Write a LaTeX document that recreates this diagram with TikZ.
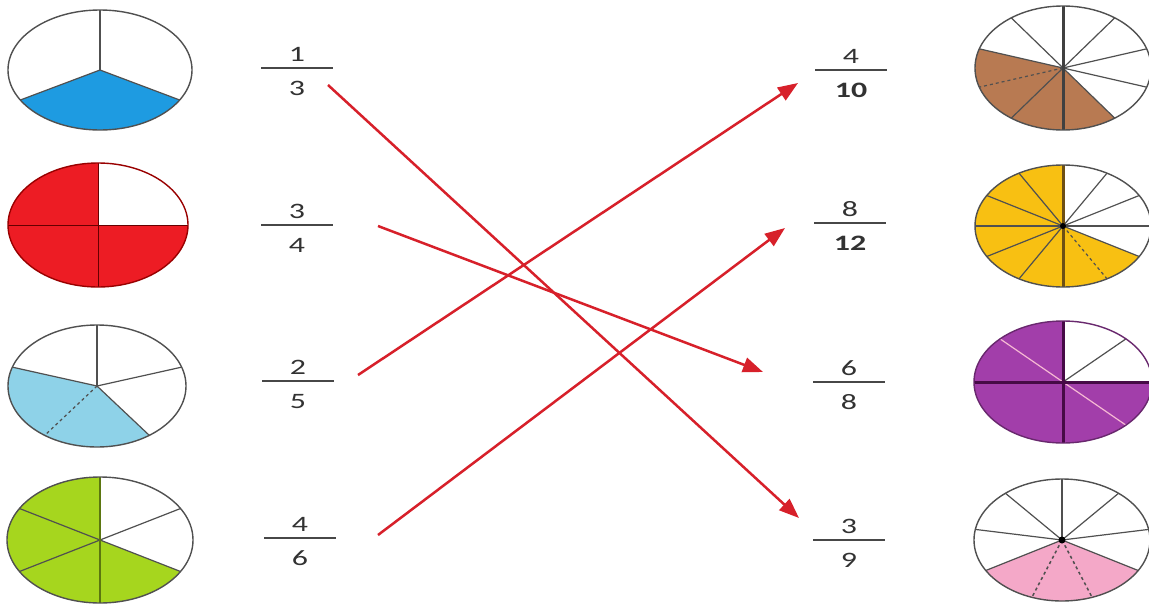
\documentclass[tikz,border=0pt]{standalone}
\usepackage{fontspec}
\setmainfont{Carlito}
\usetikzlibrary{arrows.meta}
\definecolor{cblue}{RGB}{30,155,225}
\definecolor{cred}{RGB}{237,28,36}
\definecolor{clblue}{RGB}{142,210,232}
\definecolor{cgreen}{RGB}{166,214,30}
\definecolor{cbrown}{RGB}{184,122,82}
\definecolor{cyellow}{RGB}{248,192,18}
\definecolor{cpurple}{RGB}{162,62,170}
\definecolor{cpink}{RGB}{244,168,200}
\definecolor{rimgray}{RGB}{80,80,80}
\definecolor{txtgray}{RGB}{50,50,50}
\definecolor{arrred}{RGB}{215,32,42}
\definecolor{ybrown}{RGB}{110,80,20}
\definecolor{dpurple}{RGB}{70,10,70}
\tikzset{
  rim/.style={draw=rimgray,line width=1.4pt},
  spoke/.style={draw=rimgray,line width=1.2pt},
  thick spoke/.style={draw=#1,line width=3pt},
  num/.style={anchor=base,inner sep=0pt,text=txtgray,font=\fontsize{22}{24}\selectfont},
  bar/.style={draw=txtgray!90,line width=1.6pt},
  arr/.style={draw=arrred,line width=2.5pt,-{Triangle[length=20pt,width=15pt]}},
}
\newcommand\fracnode[5]{% name, x, bar y, num, den
  \node[num] (#1n) at (#2,-#3+7) {\scalebox{1.45}[1]{#4}};
  \node[num] (#1d) at (#2,-#3-27) {\scalebox{1.45}[1]{#5}};
  \draw[bar] (#2-36,-#3) -- (#2+36,-#3);
}
\begin{document}
\begin{tikzpicture}[x=1pt,y=1pt]
\useasboundingbox (0,0) rectangle (1149,-608);
\fill[white] (0,0) rectangle (1149,-608);

% ---------- Left charts ----------
% 1/3
\begin{scope}[shift={(100,-70)}]
\fill[cblue] (0,0) -- (210:92 and 60) arc[start angle=210,end angle=330,x radius=92,y radius=60] -- cycle;
\foreach \a in {90,210,330} \draw[spoke] (0,0) -- (\a:92 and 60);
\draw[rim] (0,0) ellipse[x radius=92,y radius=60];
\end{scope}
% 3/4
\begin{scope}[shift={(98,-225)}]
\fill[cred] (0,0) -- (90:90 and 62) arc[start angle=90,end angle=360,x radius=90,y radius=62] -- cycle;
\foreach \a in {0,90,180,270} \draw[draw=black!60!red,line width=1pt] (0,0) -- (\a:90 and 62);
\draw[rim,draw=black!40!red] (0,0) ellipse[x radius=90,y radius=62];
\end{scope}
% 2/5
\begin{scope}[shift={(97,-386)}]
\fill[clblue] (0,0) -- (162:89 and 61) arc[start angle=162,end angle=306,x radius=89,y radius=61] -- cycle;
\foreach \a in {18,90,162,306} \draw[spoke] (0,0) -- (\a:89 and 61);
\draw[spoke,dashed] (0,0) -- (234:89 and 61);
\draw[rim] (0,0) ellipse[x radius=89,y radius=61];
\end{scope}
% 4/6
\begin{scope}[shift={(100,-540)}]
\fill[cgreen] (0,0) -- (90:93 and 63) arc[start angle=90,end angle=330,x radius=93,y radius=63] -- cycle;
\foreach \a in {30,150,210,330} \draw[spoke] (0,0) -- (\a:93 and 63);
\draw[draw=black!45!cgreen,line width=2.4pt] (90:93 and 63) -- (270:93 and 63);
\draw[rim] (0,0) ellipse[x radius=93,y radius=63];
\end{scope}

% ---------- Right charts ----------
% 4/10
\begin{scope}[shift={(1063,-68)}]
\fill[cbrown] (0,0) -- (162:88 and 62) arc[start angle=162,end angle=306,x radius=88,y radius=62] -- cycle;
\foreach \a in {18,54,126,162,234,306,342} \draw[spoke] (0,0) -- (\a:88 and 62);
\draw[spoke,dashed] (0,0) -- (198:88 and 62);
\draw[thick spoke=black!75] (90:88 and 62) -- (270:88 and 62);
\draw[rim] (0,0) ellipse[x radius=88,y radius=62];
\end{scope}
% 8/12
\begin{scope}[shift={(1063,-226)}]
\fill[cyellow] (0,0) -- (90:88 and 61) arc[start angle=90,end angle=330,x radius=88,y radius=61] -- cycle;
\foreach \a in {0,30,60,120,150,180,210,240,330} \draw[spoke] (0,0) -- (\a:88 and 61);
\draw[spoke,dashed] (0,0) -- (300:88 and 61);
\draw[thick spoke=ybrown] (90:88 and 61) -- (270:88 and 61);
\fill[black] (0,0) circle[radius=3];
\draw[rim] (0,0) ellipse[x radius=88,y radius=61];
\end{scope}
% 6/8
\begin{scope}[shift={(1063,-382)}]
\fill[cpurple] (0,0) -- (90:89 and 61) arc[start angle=90,end angle=360,x radius=89,y radius=61] -- cycle;
\draw[spoke] (0,0) -- (45:89 and 61);
\draw[draw=cpink!80!white,line width=1.2pt] (135:89 and 61) -- (315:89 and 61);
\draw[thick spoke=dpurple] (90:89 and 61) -- (270:89 and 61);
\draw[thick spoke=dpurple] (180:89 and 61) -- (0:89 and 61);
\draw[rim,draw=black!35!cpurple] (0,0) ellipse[x radius=89,y radius=61];
\end{scope}
% 3/9
\begin{scope}[shift={(1062,-540)}]
\fill[cpink] (0,0) -- (210:88 and 61) arc[start angle=210,end angle=330,x radius=88,y radius=61] -- cycle;
\foreach \a in {10,50,90,130,170,210,330} \draw[spoke] (0,0) -- (\a:88 and 61);
\foreach \a in {250,290} \draw[spoke,dashed,line width=1.5pt] (0,0) -- (\a:88 and 61);
\fill[black] (0,0) circle[radius=3.5];
\draw[rim] (0,0) ellipse[x radius=88,y radius=61];
\end{scope}

% ---------- Fractions ----------
\fracnode{fa}{297}{68}{1}{3}
\fracnode{fb}{297}{225}{3}{4}
\fracnode{fc}{298}{381}{2}{5}
\fracnode{fd}{300}{538}{4}{6}
\fracnode{fe}{851}{70}{4}{\textbf{10}}
\fracnode{ff}{850}{223}{8}{\textbf{12}}
\fracnode{fg}{849}{382}{6}{8}
\fracnode{fh}{849}{540}{3}{9}

% ---------- Arrows ----------
\coordinate (s1) at (328,-85);   \coordinate (e1) at (799,-518);
\coordinate (s2) at (378,-226);  \coordinate (e2) at (763,-372);
\coordinate (s3) at (358,-375);  \coordinate (e3) at (798,-83);
\coordinate (s4) at (378,-535);  \coordinate (e4) at (785,-228);
\draw[arr] (s1) -- (e1);
\draw[arr] (s2) -- (e2);
\draw[arr] (s3) -- (e3);
\draw[arr] (s4) -- (e4);
\end{tikzpicture}
\end{document}
